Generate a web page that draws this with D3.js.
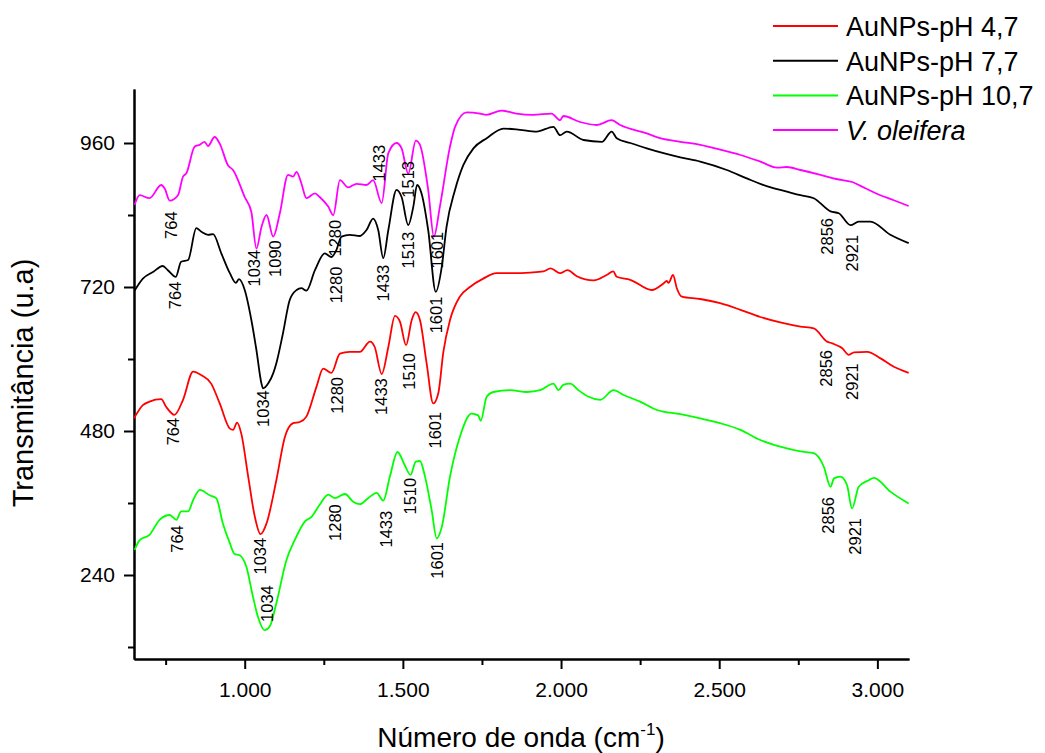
<!DOCTYPE html>
<html>
<head>
<meta charset="utf-8">
<script src="https://cdn.jsdelivr.net/npm/d3@7"></script>
<style>
  body { margin: 0; background: #fff; }
  svg { display: block; font-family: "Liberation Sans", Arial, sans-serif; }
  .axis path, .axis line { stroke: #000; stroke-width: 2; }
  .axis text { font-size: 21px; fill: #000; }
</style>
</head>
<body>
<svg></svg>
<script>
// spectra: [wavenumber, transmittance]
const pH47 = [[650,501],[678,523],[699,529],[736,533],[752,520],[778,507],[805,532],[837,579],[863,573],[894,559],[921,526],[953,484],[963,482],[976,494],[989,476],[1011,404],[1032,337],[1050,308],[1069,326],[1100,398],[1127,470],[1153,493],[1174,495],[1195,504],[1227,554],[1248,584],[1274,577],[1301,609],[1332,612],[1364,612],[1396,629],[1411,620],[1433,575],[1454,620],[1475,672],[1491,662],[1510,623],[1528,665],[1540,678],[1554,665],[1575,593],[1596,526],[1612,543],[1628,612],[1649,665],[1680,704],[1712,720],[1754,734],[1796,743],[1849,743],[1902,744],[1944,746],[1967,751],[1997,743],[2020,748],[2050,738],[2103,731],[2144,740],[2165,746],[2176,737],[2219,732],[2287,715],[2324,726],[2334,730],[2340,727],[2354,740],[2366,718],[2382,704],[2440,700],[2503,693],[2567,682],[2630,670],[2693,661],[2757,654],[2799,651],[2841,629],[2857,626],[2889,618],[2910,607],[2926,611],[2968,612],[3010,601],[3052,587],[3099,577]];

const pH77 = [[652,714],[678,734],[710,745],[741,755],[757,748],[782,737],[799,762],[821,765],[847,818],[863,812],[884,807],[900,808],[926,776],[953,743],[972,727],[982,733],[1000,715],[1021,665],[1037,615],[1053,559],[1058,551],[1074,559],[1090,576],[1100,593],[1121,643],[1142,698],[1164,715],[1179,718],[1195,714],[1222,748],[1253,776],[1274,770],[1290,782],[1306,804],[1332,807],[1364,805],[1385,815],[1406,834],[1422,815],[1438,768],[1454,815],[1480,882],[1496,870],[1517,823],[1533,854],[1545,890],[1559,876],[1580,815],[1604,712],[1623,754],[1638,820],[1665,882],[1691,923],[1723,951],[1765,968],[1818,984],[1870,982],[1923,979],[1976,987],[1997,973],[2018,979],[2071,965],[2129,962],[2160,979],[2176,968],[2219,960],[2271,951],[2324,943],[2377,936],[2440,929],[2524,915],[2587,901],[2650,888],[2714,879],[2757,873],[2799,868],[2852,846],[2878,843],[2915,823],[2941,829],[2978,829],[3041,807],[3099,793]];

const pH107 = [[652,282],[668,298],[699,307],[731,332],[763,340],[784,332],[799,346],[821,346],[837,365],[858,382],[889,373],[910,368],[931,326],[953,293],[968,275],[984,273],[1005,254],[1026,204],[1042,170],[1063,148],[1079,154],[1100,193],[1132,265],[1158,298],[1190,329],[1211,337],[1237,357],[1264,374],[1285,368],[1317,375],[1343,362],[1364,358],[1390,368],[1417,377],[1438,364],[1459,404],[1483,445],[1506,423],[1524,407],[1541,429],[1554,430],[1570,404],[1591,348],[1607,301],[1623,320],[1649,404],[1680,470],[1717,509],[1738,506],[1746,497],[1765,537],[1786,545],[1839,548],[1892,545],[1934,548],[1976,559],[1992,548],[2007,557],[2029,559],[2055,548],[2087,537],[2124,532],[2166,548],[2198,540],[2250,529],[2303,515],[2377,508],[2440,501],[2503,493],[2567,482],[2630,465],[2693,454],[2757,446],[2799,443],[2831,420],[2852,387],[2863,401],[2883,404],[2904,390],[2920,351],[2941,387],[2973,398],[2989,402],[3041,379],[3099,359]];

const oleifera = [[652,857],[668,873],[699,868],[736,890],[747,884],[763,864],[789,873],[805,904],[815,909],[842,954],[858,957],[873,962],[884,955],[905,970],[921,959],[947,923],[963,915],[1000,870],[1021,845],[1037,784],[1053,820],[1069,840],[1090,804],[1111,843],[1137,907],[1153,904],[1164,912],[1179,893],[1195,868],[1222,876],[1237,870],[1264,854],[1280,840],[1301,898],[1327,886],[1354,892],[1385,890],[1406,898],[1433,860],[1454,943],[1480,960],[1496,951],[1517,909],[1541,964],[1554,957],[1580,882],[1598,804],[1617,854],[1649,954],[1665,987],[1702,1011],[1744,1009],[1764,1007],[1812,1014],[1859,1009],[1912,1007],[1970,1009],[1997,998],[2007,1005],[2060,995],[2113,990],[2160,998],[2187,990],[2271,976],[2313,968],[2377,962],[2440,957],[2503,949],[2567,940],[2630,929],[2683,919],[2714,920],[2757,915],[2820,907],[2870,900],[2920,895],[2960,885],[3000,875],[3050,865],[3099,855]];

const seriesNames = ['AuNPs-pH 4,7', 'AuNPs-pH 7,7', 'AuNPs-pH 10,7', 'V. oleifera'];
const seriesColors = ['#ff0000', '#000000', '#00ff00', '#ff00ff'];
const seriesData = [pH47, pH77, pH107, oleifera];

// band labels: [text, wavenumber, transmittance at top of the text]
const peakLabels = [
  ['764', 767, 846], ['1034', 1029, 782], ['1090', 1096, 798], ['1280', 1285, 832],
  ['1433', 1424, 957], ['1513', 1516, 930], ['1601', 1608, 812],
  ['764', 780, 729], ['1034', 1058, 548], ['1280', 1289, 754], ['1433', 1437, 757],
  ['1513', 1516, 812], ['1601', 1605, 704], ['2856', 2841, 835], ['2921', 2920, 807],
  ['764', 773, 502], ['1034', 1048, 302], ['1280', 1292, 570], ['1433', 1431, 568],
  ['1510', 1519, 610], ['1601', 1601, 512], ['2856', 2837, 615], ['2921', 2920, 593],
  ['764', 786, 323], ['1034', 1070, 223], ['1280', 1285, 358], ['1433', 1447, 347],
  ['1510', 1522, 402], ['1601', 1608, 295], ['2856', 2844, 370], ['2921', 2929, 335]
];

const xMajor = [1000, 1500, 2000, 2500, 3000];
const xMinor = [750, 1250, 1750, 2250, 2750];
const yMajor = [240, 480, 720, 960];
const yMinor = [120, 360, 600, 840];

const margin = {t: 89, r: 136, b: 94, l: 134};
const size = {w: 1045, h: 753};
const svg = d3.select('svg').attr('width', size.w).attr('height', size.h);

const x = d3.scaleLinear().domain([650, 3100]).range([margin.l, size.w - margin.r]);
const y = d3.scaleLinear().domain([100, 1050]).range([size.h - margin.b, margin.t]);

// pt-BR style numbers: 1.000
const br = d3.formatLocale({decimal: ',', thousands: '.', grouping: [3], currency: ['', '']});

// minor ticks first, then major ticks with labels
svg.append('g').classed('axis', true)
    .attr('transform', `translate(0,${y.range()[0]})`)
    .call(d3.axisBottom(x).tickValues(xMinor).tickSize(6).tickSizeOuter(0).tickFormat(''));
svg.append('g').classed('axis', true)
    .attr('transform', `translate(0,${y.range()[0]})`)
    .call(d3.axisBottom(x).tickValues(xMajor).tickSize(10).tickSizeOuter(0)
        .tickPadding(13).tickFormat(br.format(',d')));

svg.append('g').classed('axis', true)
    .attr('transform', `translate(${x.range()[0]},0)`)
    .call(d3.axisLeft(y).tickValues(yMinor).tickSize(6).tickSizeOuter(0).tickFormat(''));
svg.append('g').classed('axis', true)
    .attr('transform', `translate(${x.range()[0]},0)`)
    .call(d3.axisLeft(y).tickValues(yMajor).tickSize(10).tickSizeOuter(0).tickPadding(9));

// spectra
const line = d3.line()
    .x(d => x(d[0]))
    .y(d => y(d[1]))
    .curve(d3.curveMonotoneX);

svg.append('g').classed('lines', true)
  .selectAll('path')
  .data(seriesData)
  .join('path')
    .attr('d', line)
    .attr('fill', 'none')
    .attr('stroke', (d, i) => seriesColors[i])
    .attr('stroke-width', 1.8)
    .attr('stroke-linejoin', 'round');

// band labels, written upward with the end at the given point
svg.append('g').classed('peaks', true)
  .selectAll('text')
  .data(peakLabels)
  .join('text')
    .attr('transform', d => `translate(${x(d[1])},${y(d[2])}) rotate(-90)`)
    .attr('text-anchor', 'end')
    .attr('dy', '0.35em')
    .style('font-size', '16.5px')
    .text(d => d[0]);

// axis titles
svg.append('text')
    .attr('transform', `translate(33,${(y.range()[0] + y.range()[1]) / 2 + 9}) rotate(-90)`)
    .attr('text-anchor', 'middle')
    .style('font-size', '29px')
    .text('Transmitância (u.a)');

const xTitle = svg.append('text')
    .attr('x', 521)
    .attr('y', 747)
    .attr('text-anchor', 'middle')
    .style('font-size', '28px');
xTitle.append('tspan').text('Número de onda (cm');
xTitle.append('tspan').attr('dy', -12).style('font-size', '17px').text('-1');
xTitle.append('tspan').attr('dy', 12).text(')');

// legend
const legend = svg.append('g').classed('legend', true)
    .selectAll('g')
    .data(seriesNames)
    .join('g')
    .attr('transform', (d, i) => `translate(773,${26 + i * 34.7})`);

legend.append('line')
    .attr('x1', 0).attr('x2', 65)
    .attr('stroke', (d, i) => seriesColors[i])
    .attr('stroke-width', 2);

legend.append('text')
    .attr('x', 73)
    .attr('y', 10)
    .style('font-size', '27px')
    .style('font-style', (d, i) => i === 3 ? 'italic' : 'normal')
    .text(d => d);
</script>
</body>
</html>
